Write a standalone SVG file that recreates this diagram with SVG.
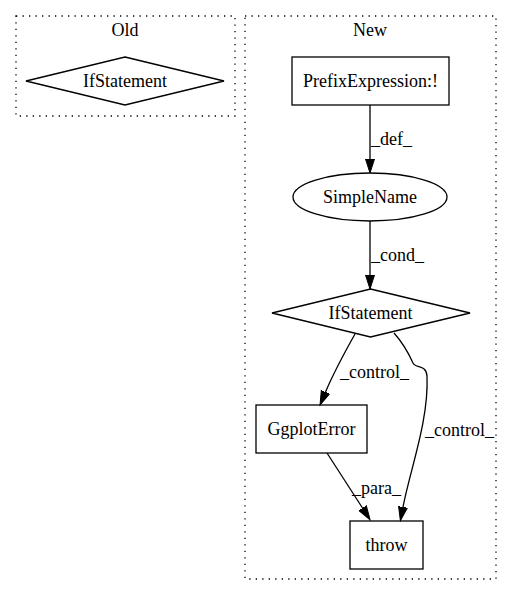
<svg xmlns="http://www.w3.org/2000/svg" width="512" height="596" viewBox="0 0 512 596">
<style>
text{font-family:"Liberation Serif","Times New Roman",serif;font-size:18px;fill:#000}
.c{text-anchor:middle}
.cl{fill:none;stroke:#000;stroke-width:1.3;stroke-dasharray:1.3,5.2}
.n{fill:none;stroke:#000;stroke-width:1.3}
.e{fill:none;stroke:#000;stroke-width:1.3}
</style>
<defs>
<marker id="ah" markerUnits="userSpaceOnUse" markerWidth="16" markerHeight="12" refX="0" refY="6" orient="auto" viewBox="0 0 16 12">
<path d="M0,1.5 L14,6 L0,10.5 z" fill="#000" stroke="#000" stroke-width="1"/>
</marker>
</defs>
<rect width="512" height="596" fill="#fff"/>
<g id="cluster_old">
<rect class="cl" x="16" y="16" width="219" height="100"/>
<text class="c" x="125" y="36">Old</text>
</g>
<g id="cluster_new">
<rect class="cl" x="245" y="16" width="251" height="563"/>
<text class="c" x="370" y="36">New</text>
</g>
<g id="old_ifstatement">
<polygon class="n" points="125,57 224,81 125,105 26,81"/>
<text class="c" x="125" y="87">IfStatement</text>
</g>
<g id="prefixexpression">
<rect class="n" x="292" y="57" width="157" height="48"/>
<text class="c" x="370.5" y="87">PrefixExpression:!</text>
</g>
<g id="simplename">
<ellipse class="n" cx="370" cy="197" rx="77" ry="24"/>
<text class="c" x="370" y="203">SimpleName</text>
</g>
<g id="new_ifstatement">
<polygon class="n" points="370.5,289 470,313 370.5,337 272,313"/>
<text class="c" x="370.5" y="319">IfStatement</text>
</g>
<g id="ggploterror">
<rect class="n" x="256" y="405" width="111" height="48"/>
<text class="c" x="311.5" y="435">GgplotError</text>
</g>
<g id="throw">
<rect class="n" x="350" y="521" width="73" height="48"/>
<text class="c" x="386.5" y="551">throw</text>
</g>
<g id="connectors">
<path class="e" d="M370,105 L370,159" marker-end="url(#ah)"/>
<text x="371" y="145">_def_</text>
<path class="e" d="M370,221 L370,275" marker-end="url(#ah)"/>
<text x="371" y="261">_cond_</text>
<path class="e" d="M355,334 C346,350 334,372 325.5,392" marker-end="url(#ah)"/>
<text x="340" y="378">_control_</text>
<path class="e" d="M394,333 C402,342 409,354 413,363 C416,369 426,364 427,376 C429,420 410,470 403,507" marker-end="url(#ah)"/>
<text x="425" y="436">_control_</text>
<path class="e" d="M327,453 L362.5,508" marker-end="url(#ah)"/>
<text x="352" y="494">_para_</text>
</g>
</svg>
